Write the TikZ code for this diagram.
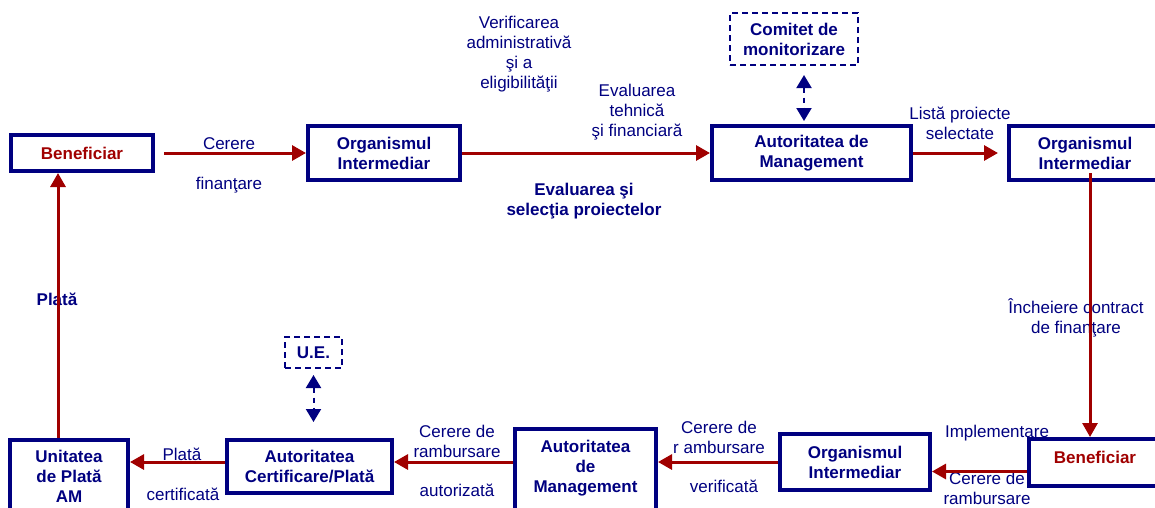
\documentclass[tikz,border=0pt]{standalone}
\usepackage{fontspec}
\setmainfont{Liberation Sans}
\usetikzlibrary{arrows.meta}
\definecolor{navy}{RGB}{0,0,128}
\definecolor{dred}{RGB}{160,0,0}
\begin{document}
\begin{tikzpicture}[x=1pt,y=-1pt,
 every node/.style={font=\fontsize{17}{20}\selectfont},
 box/.style={draw=navy, line width=4pt, text=navy, font=\fontsize{17}{20}\selectfont\bfseries, align=center, inner sep=0pt},
 dbox/.style={draw=navy, line width=2pt, dash pattern=on 6pt off 4pt, text=navy, font=\fontsize{17}{20}\selectfont\bfseries, align=center, inner sep=0pt},
 arr/.style={draw=dred, line width=3pt, -{Triangle[length=14pt,width=15pt]}},
 darr/.style={draw=navy, line width=2pt, dash pattern=on 5pt off 5pt, {Triangle[length=13pt,width=15pt]}-{Triangle[length=13pt,width=15pt]}},
 lbl/.style={text=navy, align=center, inner sep=0pt, anchor=base},
 blbl/.style={lbl, font=\fontsize{17}{20}\selectfont\bfseries},
]
\useasboundingbox (0,0) rectangle (1155,507);
% boxes
\node[box, text=dred, minimum width=142pt, minimum height=36pt] (ben1) at (82,153) {Beneficiar};
\node[box, minimum width=152pt, minimum height=54pt] (oi1) at (384,153) {Organismul\\Intermediar};
\node[box, minimum width=199pt, minimum height=54pt] (am1) at (811.5,153) {Autoritatea de\\Management};
\node[box, minimum width=152pt, minimum height=54pt] (oi2) at (1085,153) {Organismul\\Intermediar};
\node[dbox, minimum width=128pt, minimum height=52pt] (com) at (794,39) {Comitet de\\monitorizare};
\node[box, text=dred, minimum width=132pt, text height=24pt, text depth=23pt] (ben2) at (1095,462.5) {Beneficiar};
\node[box, minimum width=150pt, minimum height=56pt] (oi3) at (855,462) {Organismul\\Intermediar};
\node[box, minimum width=141pt, text height=63pt, text depth=23pt] (am2) at (585.5,472) {Autoritatea\\de\\Management};
\node[box, minimum width=165pt, minimum height=53pt] (acp) at (309.5,466.5) {Autoritatea\\Certificare/Plată};
\node[box, minimum width=118pt, minimum height=72pt] (up) at (69,476) {Unitatea\\de Plată\\AM};
\node[dbox, minimum width=57pt, minimum height=31pt] (ue) at (313.5,352.5) {U.E.};
% labels (anchor base = baseline of the last line)
\node[lbl] (l1) at (229,149) {Cerere};
\node[lbl] (l2) at (229,189) {finanţare};
\node[lbl] (l3) at (519,88) {Verificarea\\administrativă\\şi a\\eligibilităţii};
\node[lbl] (l4) at (637,136) {Evaluarea\\tehnică\\şi financiară};
\node[blbl] (l5) at (584,215) {Evaluarea şi\\selecţia proiectelor};
\node[lbl] (l6) at (960,139) {Listă proiecte\\selectate};
\node[lbl] (l7) at (1076,333) {Încheiere contract\\de finanţare};
\node[lbl] (l8) at (997,437) {Implementare};
\node[lbl] (l9) at (987,504) {Cerere de\\rambursare};
\node[lbl] (l10) at (719,453) {Cerere de\\r ambursare};
\node[lbl] (l11) at (724,492) {verificată};
\node[lbl] (l12) at (457,457) {Cerere de\\rambursare};
\node[lbl] (l13) at (457,496) {autorizată};
\node[lbl] (l14) at (182,460) {Plată};
\node[lbl] (l15) at (183,500) {certificată};
\node[blbl] (l16) at (57,305) {Plată};
% connectors
\draw[arr, shorten <=9pt] (ben1) -- (oi1);
\draw[arr] (oi1) -- (am1);
\draw[arr, shorten >=9pt] (am1) -- (oi2);
\draw[arr] ([xshift=5pt,yshift=9pt]oi2.south) -- ([xshift=5pt]oi2.south |- ben2.north);
\draw[arr] ([yshift=-9pt]ben2.west) -- ([yshift=-9pt]ben2.west -| oi3.east);
\draw[arr] (oi3.west) -- (oi3.west -| am2.east);
\draw[arr] (am2.west |- oi3.west) -- (oi3.west -| acp.east);
\draw[arr] ([yshift=4.5pt]acp.west) -- ([yshift=4.5pt]acp.west -| up.east);
\draw[arr] ([xshift=-11pt]up.north) -- ([xshift=-11pt]up.north |- ben1.south);
\draw[darr, shorten <=9pt, shorten >=3pt] ([xshift=10pt]com.south) -- ([xshift=10pt]com.south |- am1.north);
\draw[darr, shorten <=6pt, shorten >=16pt] (ue.south) -- (ue.south |- acp.north);
\end{tikzpicture}
\end{document}
